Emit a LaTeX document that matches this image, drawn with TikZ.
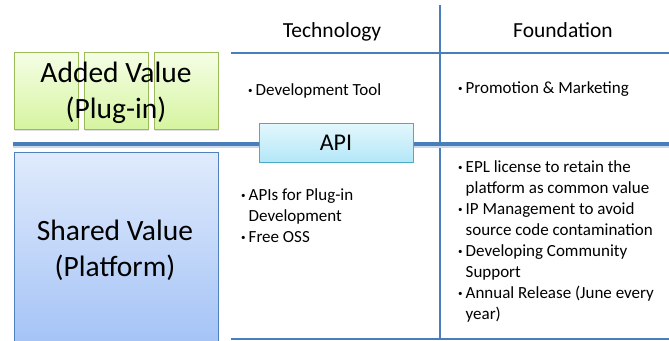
\documentclass[tikz,border=0pt]{standalone}
\usepackage{fontspec}
\setmainfont{Carlito}
\usetikzlibrary{shadows}
\definecolor{trait}{HTML}{4A7EBB}
\definecolor{vertbord}{HTML}{9BBB59}
\definecolor{verthaut}{HTML}{F5FEE6}
\definecolor{vertbas}{HTML}{D6F4A0}
\definecolor{bleubord}{HTML}{4F81BD}
\definecolor{bleuhaut}{HTML}{E0EBFC}
\definecolor{bleubas}{HTML}{A4C3F6}
\definecolor{apibord}{HTML}{4BACC6}
\definecolor{apihaut}{HTML}{E4F7FD}
\definecolor{apibas}{HTML}{B3E7F8}
\newcommand{\puce}{\makebox[7.5pt][l]{\raisebox{2pt}{\fontsize{9}{9}\selectfont\textbullet}}}
\newcommand{\retrait}{\hspace*{7.5pt}}

\begin{document}
\begin{tikzpicture}[x=1pt,y=-1pt,
	plug/.style={draw=vertbord,line width=1pt,top color=verthaut,bottom color=vertbas,
		minimum width=64pt,minimum height=77pt,inner sep=0pt,
		drop shadow={shadow xshift=1pt,shadow yshift=-1.5pt,opacity=0.25}},
	grand/.style={font=\fontsize{29.5}{36}\selectfont,align=center,inner sep=0pt},
	titre/.style={font=\fontsize{21.5}{25}\selectfont,anchor=base,inner sep=0pt},
	liste/.style={font=\fontsize{17}{21}\selectfont,align=left,anchor=base west,inner sep=0pt},
	regle/.style={trait,line width=1.2pt}]
						\useasboundingbox (0,0) rectangle (669,340);
						% Traits du tableau
						\coordinate (hautV) at (440,5);
						\coordinate (basV) at (440,340);
						\coordinate (titreG) at (231,53);
						\coordinate (titreD) at (669,53);
						\coordinate (finG) at (231,339);
						\coordinate (finD) at (669,339);
						\coordinate (apiG) at (13,144);
						\coordinate (apiD) at (669,144);
						\draw [regle] (hautV) -- (basV);
						\draw [regle] (titreG) -- (titreD);
						\draw [regle] (finG) -- (finD);
						\draw [trait!30,line width=2pt] ([yshift=-2.5pt]apiG) -- ([yshift=-2.5pt]apiD);
						\draw [trait,line width=3.5pt] (apiG) -- (apiD);
						% Blocs de gauche
						\node [plug] (plugA) at (46,90.5) {};
						\node [plug] (plugB) at (116,90.5) {};
						\node [plug] (plugC) at (186,90.5) {};
						\node [grand] (ajout) at (116,93) {Added Value\\(Plug-in)};
						\node [draw=bleubord,line width=1pt,top color=bleuhaut,bottom color=bleubas,
							minimum width=204pt,minimum height=193pt] (socle) at (116,248.5) {};
						\node [grand] (partage) at (115,250) {Shared Value\\(Platform)};
						\node [draw=apibord,line width=1pt,top color=apihaut,bottom color=apibas,
							minimum width=154pt,minimum height=39pt,font=\fontsize{24}{28}\selectfont] (api) at (336,142.5) {API};
						% Colonnes (la base est celle de la derniere ligne)
						\node [titre] (techno) at (332,37) {Technology};
						\node [titre] (fondation) at (563,37) {Foundation};
						\node [liste] (outil) at (248,95) {\puce Development Tool};
						\node [liste] (promo) at (458,93) {\puce Promotion \& Marketing};
						\node [liste] (apis) at (241,242) {\puce APIs for Plug-in\\\retrait Development\\\puce Free OSS};
						\node [liste] (epl) at (458,319) {\puce EPL license to retain the\\\retrait platform as common value\\
							\puce IP Management to avoid\\\retrait source code contamination\\
							\puce Developing Community\\\retrait Support\\
							\puce Annual Release (June every\\\retrait year)};
						\end{tikzpicture}
\end{document}
